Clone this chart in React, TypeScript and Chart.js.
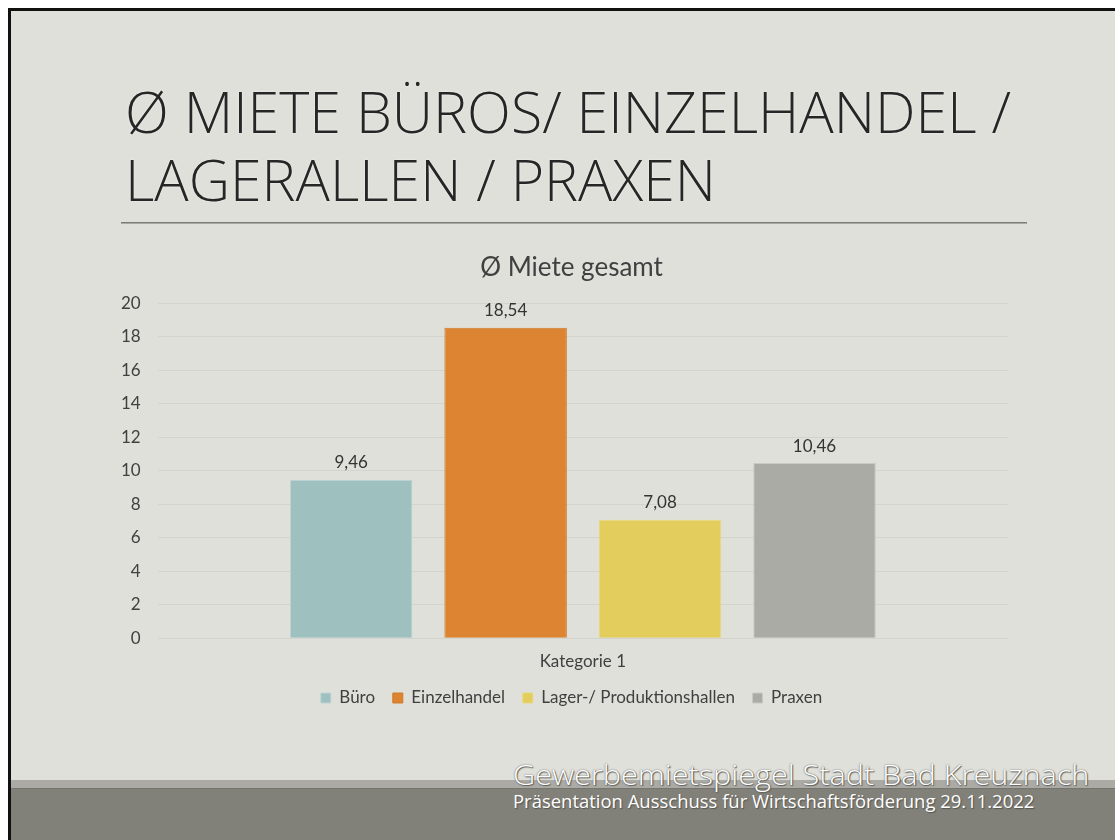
import React, { useEffect, useLayoutEffect, useRef } from "react";
import { Chart, registerables } from "chart.js";

Chart.register(...registerables);

// ---------- data ----------
const TITLE_LINES = ["Ø MIETE BÜROS/ EINZELHANDEL /", "LAGERALLEN / PRAXEN"];
const CHART_TITLE = "Ø Miete gesamt";
const CATEGORIES = ["Kategorie 1"];
const SERIES_NAMES = ["Büro", "Einzelhandel", "Lager-/ Produktionshallen", "Praxen"];
const BUERO = [9.46];
const EINZELHANDEL = [18.54];
const LAGER = [7.08];
const PRAXEN = [10.46];
const Y_MIN = 0;
const Y_MAX = 20;
const Y_STEP = 2;
const FOOTER_LINES = [
  "Gewerbemietspiegel Stadt Bad Kreuznach",
  "Präsentation Ausschuss für Wirtschaftsförderung 29.11.2022",
];

// ---------- styles ----------
const SLIDE_BG = "#e0e0db";
const BAR_COLORS = ["#9ec0bf", "#dc8431", "#e3cd5d", "#ababa6"];
const BAR_BORDERS = ["#bdd4d3", "#d27a2a", "#e9d77e", "#c8c8c4"];
const TEXT_DARK = "#404040";
const CHART_FONT = "Lato, 'Noto Sans', sans-serif";

type FitProps = {
  text: string;
  left: number;
  baseline: number;
  width: number;
  style: React.CSSProperties;
};

function FitText({ text, left, baseline, width, style }: FitProps) {
  const boxRef = useRef<HTMLDivElement>(null);
  const spanRef = useRef<HTMLSpanElement>(null);
  const markRef = useRef<HTMLSpanElement>(null);
  useLayoutEffect(() => {
    const fit = () => {
      const box = boxRef.current;
      const span = spanRef.current;
      const mark = markRef.current;
      if (!box || !span || !mark) return;
      const natural = span.offsetWidth;
      const sx = natural > 0 ? width / natural : 1;
      box.style.transform = `scaleX(${sx})`;
      box.style.top = `${baseline - mark.offsetTop}px`;
    };
    fit();
    const fonts = (document as any).fonts;
    if (fonts && fonts.ready) fonts.ready.then(fit);
  }, [text, left, baseline, width]);
  return (
    <div
      ref={boxRef}
      style={{
        position: "absolute",
        left,
        top: 0,
        whiteSpace: "nowrap",
        transformOrigin: "0 0",
        lineHeight: "normal",
        margin: 0,
        padding: 0,
      }}
    >
      <span ref={spanRef} style={{ ...style, display: "inline-block", position: "relative" }}>
        <span
          ref={markRef}
          style={{ display: "inline-block", width: 0, height: 0, verticalAlign: "baseline" }}
        />
        {text}
      </span>
    </div>
  );
}

const valueLabels = {
  id: "valueLabels",
  afterDatasetsDraw(chart: any) {
    const ctx = chart.ctx;
    ctx.save();
    ctx.font = `17px ${CHART_FONT}`;
    ctx.fillStyle = "#333333";
    ctx.textAlign = "center";
    ctx.textBaseline = "middle";
    chart.data.datasets.forEach((ds: any, i: number) => {
      const meta = chart.getDatasetMeta(i);
      meta.data.forEach((bar: any, j: number) => {
        const v = ds.data[j] as number;
        ctx.fillText(v.toFixed(2).replace(".", ","), bar.x, bar.y - 17);
      });
    });
    ctx.restore();
  },
};

function BarChart() {
  const canvasRef = useRef<HTMLCanvasElement>(null);
  useEffect(() => {
    const canvas = canvasRef.current;
    if (!canvas) return;
    const series = [BUERO, EINZELHANDEL, LAGER, PRAXEN];
    const chart = new Chart(canvas, {
      type: "bar",
      data: {
        labels: CATEGORIES,
        datasets: series.map((d, i) => ({
          label: SERIES_NAMES[i],
          data: d,
          backgroundColor: BAR_COLORS[i],
          borderColor: BAR_BORDERS[i],
          borderWidth: 1,
          categoryPercentage: 0.7265,
          barPercentage: 0.793,
        })),
      },
      options: {
        animation: false,
        responsive: false,
        maintainAspectRatio: false,
        layout: { padding: { left: 0, right: 0, top: 0, bottom: 3.5 } },
        plugins: {
          title: {
            display: true,
            text: CHART_TITLE,
            color: TEXT_DARK,
            font: { family: CHART_FONT, size: 26, weight: "normal", lineHeight: 1.2 },
            padding: { top: 12.4, bottom: 19.7 },
          },
          legend: {
            position: "bottom",
            labels: {
              boxWidth: 10,
              boxHeight: 10,
              padding: 17.7,
              color: TEXT_DARK,
              font: { family: CHART_FONT, size: 17 },
            },
          },
          tooltip: { enabled: false },
        },
        scales: {
          x: {
            grid: { display: false, drawTicks: false },
            border: { display: false },
            ticks: {
              color: TEXT_DARK,
              font: { family: CHART_FONT, size: 17, lineHeight: 1.2 },
              padding: 13.5,
            },
            afterFit: (s: any) => {
              s.height = 33.5;
            },
          },
          y: {
            min: Y_MIN,
            max: Y_MAX,
            ticks: {
              stepSize: Y_STEP,
              color: TEXT_DARK,
              font: { family: CHART_FONT, size: 17 },
              padding: 17,
            },
            grid: { color: "#d4d4cf", drawTicks: false },
            border: { display: false },
            afterFit: (s: any) => {
              s.width = 57.7;
            },
          },
          yRightSpace: {
            type: "linear",
            position: "right",
            display: true,
            grid: { display: false, drawTicks: false },
            border: { display: false },
            ticks: { display: false },
            afterFit: (s: any) => {
              s.width = 35;
            },
          },
        },
      } as any,
      plugins: [valueLabels],
    });
    return () => chart.destroy();
  }, []);
  return (
    <div style={{ position: "absolute", left: 100, top: 240, width: 943, height: 480 }}>
      <canvas ref={canvasRef} width={943} height={480} style={{ width: 943, height: 480, display: "block" }} />
    </div>
  );
}

export default function App() {
  const titleStyle: React.CSSProperties = {
    fontFamily: "'Open Sans', Lato, sans-serif",
    fontWeight: 300,
    fontSize: 57,
    color: "#262626",
    textShadow: "0 0 2px rgba(255,255,255,0.7)",
  };
  return (
    <div
      style={{
        position: "fixed",
        left: 0,
        top: 0,
        width: 1115,
        height: 840,
        overflow: "hidden",
        background: "#ffffff",
      }}
    >
      <div
        style={{
          position: "absolute",
          left: 8,
          top: 8,
          width: 1120,
          height: 850,
          boxSizing: "border-box",
          background: SLIDE_BG,
          borderLeft: "3px solid #111111",
          borderTop: "3px solid #111111",
        }}
      />
      {/* footer bands */}
      <div style={{ position: "absolute", left: 11, top: 780, width: 1104, height: 8, background: "#abaaa5" }} />
      <div
        style={{
          position: "absolute",
          left: 11,
          top: 788,
          width: 1104,
          height: 52,
          background: "#81817a",
          borderTop: "1px solid #75756e",
          boxSizing: "border-box",
        }}
      />
      {/* title */}
      <FitText text={TITLE_LINES[0]} left={125} baseline={133} width={886} style={titleStyle} />
      <FitText text={TITLE_LINES[1]} left={125} baseline={201} width={591} style={titleStyle} />
      {/* rule */}
      <div style={{ position: "absolute", left: 121, top: 222, width: 906, height: 1, background: "#7c7c78" }} />
      <div style={{ position: "absolute", left: 121, top: 223, width: 906, height: 1, background: "#a8a8a4" }} />
      <BarChart />
      {/* footer text */}
      <FitText
        text={FOOTER_LINES[0]}
        left={513}
        baseline={785}
        width={576}
        style={{
          fontFamily: "'Open Sans', sans-serif",
          fontWeight: 300,
          fontSize: 28,
          color: "#ffffff",
          textShadow: "0 0 1.5px #4a4a45, 1px 1px 1px #6a6a64",
        }}
      />
      <FitText
        text={FOOTER_LINES[1]}
        left={513}
        baseline={808}
        width={521}
        style={{
          fontFamily: "'Open Sans', sans-serif",
          fontWeight: 400,
          fontSize: 18,
          color: "#ffffff",
          textShadow: "1px 1px 1px #55554f",
        }}
      />
    </div>
  );
}
